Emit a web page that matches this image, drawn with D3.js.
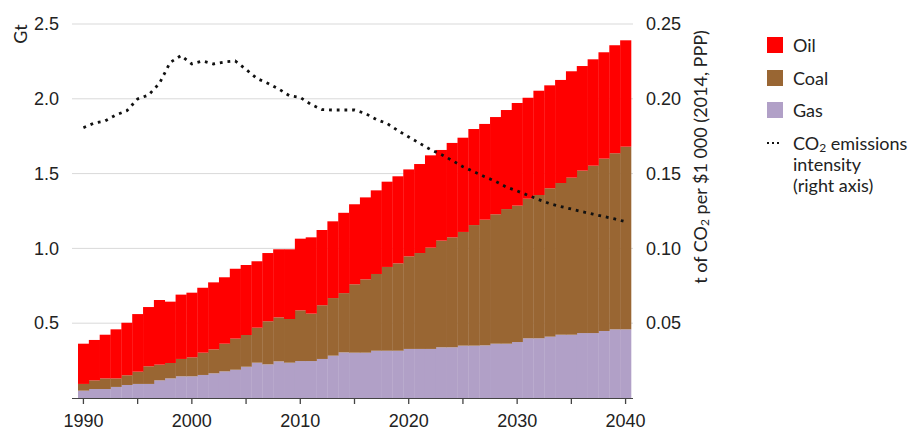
<!DOCTYPE html>
<html>
<head>
<meta charset="utf-8">
<script src="https://cdn.jsdelivr.net/npm/d3@7"></script>
<style>
  html, body { margin: 0; padding: 0; background: #fff; }
  svg { display: block; font-family: Lato, "Open Sans", sans-serif; }
</style>
</head>
<body>
<svg id="chart" width="916" height="433"></svg>
<script>
// ---- data ----
const years = d3.range(1990, 2041);
const gas = [0.049, 0.060, 0.060, 0.074, 0.087, 0.094, 0.094, 0.118, 0.131, 0.145,
  0.145, 0.154, 0.165, 0.178, 0.189, 0.209, 0.236, 0.225, 0.245, 0.236,
  0.247, 0.247, 0.261, 0.283, 0.305, 0.303, 0.303, 0.316, 0.316, 0.316,
  0.328, 0.328, 0.328, 0.339, 0.339, 0.350, 0.350, 0.352, 0.363, 0.363,
  0.374, 0.399, 0.399, 0.410, 0.423, 0.423, 0.434, 0.434, 0.448, 0.459, 0.459];
const coal = [0.045, 0.058, 0.071, 0.057, 0.065, 0.082, 0.118, 0.105, 0.103, 0.116,
  0.127, 0.149, 0.160, 0.185, 0.208, 0.212, 0.234, 0.288, 0.294, 0.292,
  0.339, 0.317, 0.359, 0.385, 0.396, 0.457, 0.490, 0.513, 0.560, 0.584,
  0.619, 0.641, 0.677, 0.713, 0.735, 0.760, 0.806, 0.840, 0.865, 0.900,
  0.912, 0.933, 0.958, 0.992, 1.014, 1.050, 1.086, 1.119, 1.152, 1.177, 1.221];
const oil = [0.269, 0.270, 0.292, 0.328, 0.351, 0.385, 0.396, 0.432, 0.410, 0.430,
  0.432, 0.434, 0.448, 0.444, 0.467, 0.468, 0.444, 0.456, 0.455, 0.466,
  0.479, 0.510, 0.503, 0.513, 0.537, 0.535, 0.548, 0.559, 0.570, 0.582,
  0.581, 0.595, 0.617, 0.606, 0.631, 0.630, 0.642, 0.640, 0.650, 0.662,
  0.686, 0.675, 0.697, 0.688, 0.689, 0.711, 0.699, 0.711, 0.711, 0.722, 0.711];
// t CO2 per $1 000 (right axis)
const intensity = [0.1807, 0.1838, 0.1852, 0.1892, 0.1920, 0.1999, 0.2025, 0.2102, 0.2243, 0.2289,
  0.2233, 0.2253, 0.2233, 0.2246, 0.2253, 0.2196, 0.2136, 0.2104, 0.2066, 0.2021,
  0.2009, 0.1962, 0.1928, 0.1925, 0.1925, 0.1925, 0.1902, 0.1862, 0.1835, 0.1788,
  0.1745, 0.1703, 0.1661, 0.1628, 0.1588, 0.1546, 0.1513, 0.1479, 0.1449, 0.1410,
  0.1384, 0.1355, 0.1326, 0.1299, 0.1280, 0.1263, 0.1245, 0.1229, 0.1213, 0.1197, 0.1178];

const leftTicks = [0.5, 1.0, 1.5, 2.0, 2.5];
const rightTicks = [0.05, 0.10, 0.15, 0.20, 0.25];
const xTicks = years.filter(y => y % 5 === 0);

const fuels = ["Oil", "Coal", "Gas"];
const colors = { Oil: "#ff0000", Coal: "#996633", Gas: "#b1a0c7" };

// ---- layout ----
const svg = d3.select("#chart");
const plot = { left: 72, right: 633, top: 24, bottom: 398 };
const textColor = "#222";

const x = d3.scaleBand().domain(years).range([78, 631]).padding(0);
const y = d3.scaleLinear().domain([0, 2.5]).range([plot.bottom, plot.top]);
const y2 = d3.scaleLinear().domain([0, 0.25]).range([plot.bottom, plot.top]);

// gridlines
svg.append("g").selectAll("line").data(leftTicks).join("line")
  .attr("x1", plot.left).attr("x2", plot.right)
  .attr("y1", d => y(d)).attr("y2", d => y(d))
  .attr("stroke", "#d9d9d9").attr("stroke-width", 1);

// stacked bars
const table = years.map((yr, i) => ({ year: yr, Gas: gas[i], Coal: coal[i], Oil: oil[i] }));
const stacked = d3.stack().keys(["Gas", "Coal", "Oil"])(table);

svg.append("g").selectAll("g").data(stacked).join("g")
  .attr("fill", s => colors[s.key])
  .selectAll("rect").data(s => s).join("rect")
  .attr("x", d => x(d.data.year))
  .attr("width", x.bandwidth() + 0.3)
  .attr("y", d => y(d[1]))
  .attr("height", d => y(d[0]) - y(d[1]));

// intensity line (dotted)
const line = d3.line()
  .x((d, i) => x(years[i]) + x.bandwidth() / 2)
  .y(d => y2(d));
svg.append("path").datum(intensity)
  .attr("fill", "none").attr("stroke", "#111")
  .attr("stroke-width", 2.8).attr("stroke-dasharray", "2.8,4.9")
  .attr("d", line);

// x axis
svg.append("line")
  .attr("x1", plot.left).attr("x2", plot.right)
  .attr("y1", plot.bottom + 0.5).attr("y2", plot.bottom + 0.5)
  .attr("stroke", "#444").attr("stroke-width", 1.2);

const xAxis = svg.append("g").attr("transform", `translate(0,${plot.bottom})`)
  .call(d3.axisBottom(x).tickValues(xTicks).tickSize(6).tickSizeOuter(0)
    .tickFormat(d => d % 10 === 0 ? d : ""));
xAxis.select(".domain").remove();
xAxis.selectAll("line").attr("stroke", "#444").attr("stroke-width", 1.3);
xAxis.selectAll("text").attr("font-size", 18).attr("fill", textColor).attr("dy", "1.1em");

// left axis
const yAxis = svg.append("g").attr("transform", `translate(${plot.left - 10},0)`)
  .call(d3.axisLeft(y).tickValues(leftTicks).tickSize(0).tickFormat(d3.format(".1f")));
yAxis.select(".domain").remove();
yAxis.selectAll("text").attr("font-size", 18).attr("fill", textColor);

// right axis
const y2Axis = svg.append("g").attr("transform", `translate(${plot.right + 10},0)`)
  .call(d3.axisRight(y2).tickValues(rightTicks).tickSize(0).tickFormat(d3.format(".2f")));
y2Axis.select(".domain").remove();
y2Axis.selectAll("text").attr("font-size", 18).attr("fill", textColor);

// axis titles
svg.append("text")
  .attr("transform", "translate(20,34) rotate(-90)")
  .attr("text-anchor", "middle").attr("dominant-baseline", "central")
  .attr("font-size", 18).attr("fill", textColor).text("Gt");

const rTitle = svg.append("text")
  .attr("transform", "translate(700,157) rotate(-90)")
  .attr("text-anchor", "middle").attr("dominant-baseline", "central")
  .attr("font-size", 18).attr("fill", textColor);
rTitle.append("tspan").text("t of CO");
rTitle.append("tspan").attr("font-size", 12).attr("dy", 4).text("2");
rTitle.append("tspan").attr("dy", -4).text(" per $1 000 (2014, PPP)");

// ---- legend ----
const legend = svg.append("g").attr("transform", "translate(767,0)");
const rowY = [45, 78, 110];

legend.selectAll("rect").data(fuels).join("rect")
  .attr("x", 0).attr("y", (d, i) => rowY[i] - 8)
  .attr("width", 16).attr("height", 16)
  .attr("fill", d => colors[d]);

legend.selectAll("text.lab").data(fuels).join("text")
  .attr("class", "lab")
  .attr("x", 26).attr("y", (d, i) => rowY[i])
  .attr("dominant-baseline", "central")
  .attr("font-size", 18).attr("fill", textColor).text(d => d);

legend.append("line")
  .attr("x1", 0).attr("x2", 15).attr("y1", 143).attr("y2", 143)
  .attr("stroke", "#111").attr("stroke-width", 2).attr("stroke-dasharray", "2,3");

const co2 = legend.append("text")
  .attr("x", 26).attr("y", 143).attr("dominant-baseline", "central")
  .attr("font-size", 18).attr("fill", textColor);
co2.append("tspan").text("CO");
co2.append("tspan").attr("font-size", 12).attr("dy", 4).text("2");
co2.append("tspan").attr("dy", -4).text(" emissions");

legend.append("text").attr("x", 26).attr("y", 164).attr("dominant-baseline", "central")
  .attr("font-size", 18).attr("fill", textColor).text("intensity");
legend.append("text").attr("x", 26).attr("y", 185).attr("dominant-baseline", "central")
  .attr("font-size", 18).attr("fill", textColor).text("(right axis)");
</script>
</body>
</html>
